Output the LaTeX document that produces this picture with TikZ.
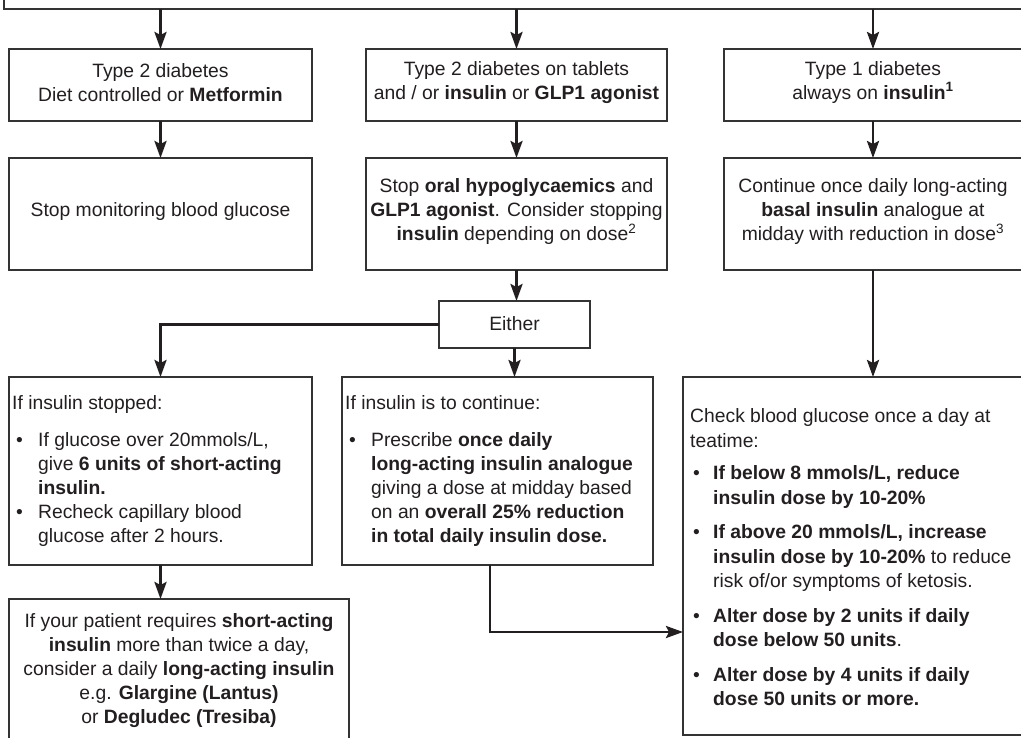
\documentclass[tikz,border=0pt]{standalone}
\usepackage{fontspec}
\setmainfont{Liberation Sans}
\usetikzlibrary{arrows.meta}
\definecolor{textc}{HTML}{231F20}
\definecolor{boxc}{HTML}{333333}
\begin{document}
\begin{tikzpicture}[x=1pt,y=-1pt,
  box/.style={draw=boxc, line width=1.4pt, inner sep=0pt, outer sep=0pt, fill=none},
  txt/.style={font=\fontsize{19.3}{24}\selectfont, inner sep=0pt, text=textc},
  conn/.style={draw=textc, line width=2.7pt, -{Stealth[length=17pt,width=12pt,inset=3pt]}},
  plain/.style={draw=textc, line width=2.7pt}]
\useasboundingbox (0,0) rectangle (1021,737);
\clip (0,0) rectangle (1021,737);
\fill[white] (0,0) rectangle (1021,737);

% boxes
\node[box, minimum width=1036pt, minimum height=39pt] (top) at (522,-10.5) {};
\node[box, minimum width=303pt, minimum height=72pt] (A) at (160.5,85) {};
\node[box, minimum width=301pt, minimum height=72pt] (B) at (516.5,85) {};
\node[box, minimum width=298pt, minimum height=72pt] (C) at (873,85) {};
\node[box, minimum width=303pt, minimum height=112pt] (A2) at (160.5,214) {};
\node[box, minimum width=301pt, minimum height=112pt] (B2) at (516.5,214) {};
\node[box, minimum width=298pt, minimum height=112pt] (C2) at (873,214) {};
\node[box, minimum width=151pt, minimum height=47pt] (E1) at (514.5,324.5) {};
\node[box, minimum width=303pt, minimum height=188pt] (D) at (160.5,471) {};
\node[box, minimum width=340pt, minimum height=161pt] (E) at (179,679.5) {};
\node[box, minimum width=311pt, minimum height=188pt] (F) at (497.5,471) {};
\node[box, minimum width=339pt, minimum height=358pt] (G) at (852.5,556) {};

% texts
\node[txt, align=center] (tA) at (160.5,82.5) {Type 2 diabetes\\Diet controlled or \textbf{Metformin}};
\node[txt, align=center] (tB) at (516.5,82.5) {Type 2 diabetes on tablets\\and / or \textbf{insulin} or \textbf{GLP1 agonist}};
\node[txt, align=center] (tC) at (873,82.5) {Type 1 diabetes\\always on \textbf{insulin\textsuperscript{1}}};
\node[txt, align=center] (tA2) at (160.5,212) {Stop monitoring blood glucose};
\node[txt, align=center] (tB2) at (516.5,212) {Stop \textbf{oral hypoglycaemics} and\\\textbf{GLP1 agonist}. Consider stopping\\\textbf{insulin} depending on dose\textsuperscript{2}};
\node[txt, align=center] (tC2) at (873,212) {Continue once daily long-acting\\\textbf{basal insulin} analogue at\\midday with reduction in dose\textsuperscript{3}};
\node[txt] (tE1) at (514.5,324) {Either};
\node[txt, align=left, anchor=north west] (tD) at (12,395.5) {If insulin stopped:\\[13pt]
\makebox[26pt][l]{\hspace{4pt}•}If glucose over 20mmols/L,\\
\hspace*{26pt}give \textbf{6 units of short-acting}\\
\hspace*{26pt}\textbf{insulin.}\\
\makebox[26pt][l]{\hspace{4pt}•}Recheck capillary blood\\
\hspace*{26pt}glucose after 2 hours.};
\node[txt, align=left, anchor=north west] (tF) at (345,395.5) {If insulin is to continue:\\[13pt]
\makebox[26pt][l]{\hspace{4pt}•}Prescribe \textbf{once daily}\\
\hspace*{26pt}\textbf{long-acting insulin analogue}\\
\hspace*{26pt}giving a dose at midday based\\
\hspace*{26pt}on an \textbf{overall 25\% reduction}\\
\hspace*{26pt}\textbf{in total daily insulin dose.}};
\node[txt, align=center] (tE) at (179,671) {If your patient requires \textbf{short-acting}\\
\textbf{insulin} more than twice a day,\\
consider a daily \textbf{long-acting insulin}\\
e.g. \textbf{Glargine (Lantus)}\\
or \textbf{Degludec (Tresiba)}};
\node[txt, font=\fontsize{19.3}{24.5}\selectfont, align=left, anchor=north west] (tG) at (690,408.5) {Check blood glucose once a day at\\
teatime:\\[8pt]
\makebox[23pt][l]{\hspace{3pt}•}\textbf{If below 8 mmols/L, reduce}\\
\hspace*{23pt}\textbf{insulin dose by 10-20\%}\\[10pt]
\makebox[23pt][l]{\hspace{3pt}•}\textbf{If above 20 mmols/L, increase}\\
\hspace*{23pt}\textbf{insulin dose by 10-20\%} to reduce\\
\hspace*{23pt}risk of/or symptoms of ketosis.\\[10pt]
\makebox[23pt][l]{\hspace{3pt}•}\textbf{Alter dose by 2 units if daily}\\
\hspace*{23pt}\textbf{dose below 50 units}.\\[10pt]
\makebox[23pt][l]{\hspace{3pt}•}\textbf{Alter dose by 4 units if daily}\\
\hspace*{23pt}\textbf{dose 50 units or more.}};

% connectors
\draw[conn] (top.south -| A.north) -- (A.north);
\draw[conn] (top.south -| B.north) -- (B.north);
\draw[conn] (top.south -| C.north) -- (C.north);
\draw[conn] (A.south) -- (A2.north);
\draw[conn] (B.south) -- (B2.north);
\draw[conn] (C.south) -- (C2.north);
\draw[conn] (B2.south) -- (B2.south |- E1.north);
\draw[conn] (E1.west) -| (D.north);
\draw[conn] (E1.south) -- (E1.south |- F.north);
\draw[conn] (D.south) -- (D.south |- E.north);
\coordinate (fturn) at (490,632);
\draw[conn] (F.south -| fturn) -- (fturn) -- (fturn -| G.west);
\draw[conn] (C2.south) -- (C2.south |- G.north);
\end{tikzpicture}
\end{document}
